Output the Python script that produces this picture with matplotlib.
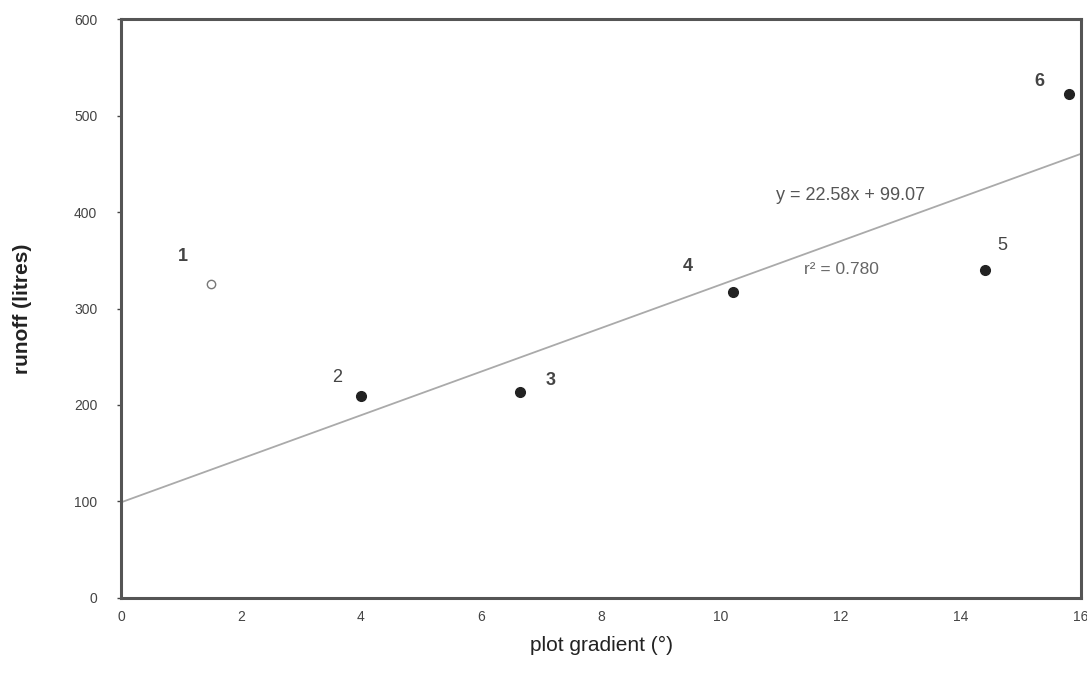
import numpy as np
import matplotlib
matplotlib.use("Agg")
import matplotlib.pyplot as plt

plt.rcParams["font.family"] = ["Liberation Sans", "DejaVu Sans"]

# plot data
plot_ids = ["1", "2", "3", "4", "5", "6"]
gradient = [1.5, 4.0, 6.65, 10.2, 14.4, 15.8]
runoff = [325, 209, 213, 317, 340, 522]
open_marker = [True, False, False, False, False, False]

# label anchor positions (data coords)
label_x = [1.03, 3.6, 7.16, 9.44, 14.68, 15.3]
label_y = [354, 228, 225, 344, 365, 535]
label_bold = [True, False, True, True, False, True]

# regression from the figure
slope = 22.58
intercept = 99.07
r2 = 0.780

xticks = [0, 2, 4, 6, 8, 10, 12, 14, 16]
yticks = [0, 100, 200, 300, 400, 500, 600]

fig = plt.figure(figsize=(10.87, 6.82), dpi=100)
ax = fig.add_axes([0.1113, 0.1232, 0.8832, 0.8489])

spine_col = "#555555"
for s in ax.spines.values():
    s.set_color(spine_col)
    s.set_linewidth(2.2)

# regression line
xl = np.array([0, 16])
ax.plot(xl, slope * xl + intercept, color="#aaaaaa", lw=1.3, zorder=1)

for x, y, hollow in zip(gradient, runoff, open_marker):
    if hollow:
        ax.plot(x, y, "o", ms=6, mfc="white", mec="#777777", mew=1.0, zorder=3)
    else:
        ax.plot(x, y, "o", ms=7, color="#222222", zorder=3)

for lab, lx, ly, b in zip(plot_ids, label_x, label_y, label_bold):
    ax.text(lx, ly, lab, ha="center", va="center", fontsize=13,
            fontweight="bold" if b else "normal", color="#444444")

ax.text(12.16, 417, f"y = {slope:.2f}x + {intercept:.2f}", ha="center", va="center",
        fontsize=13, color="#555555")
ax.text(12.0, 340, f"r² = {r2:.3f}", ha="center", va="center",
        fontsize=12.5, color="#666666")

ax.set_xlim(0, 16)
ax.set_ylim(0, 600)
ax.set_xticks(xticks)
ax.set_yticks(yticks)
ax.tick_params(axis="both", labelsize=10, colors="#444444", length=3, width=1)
ax.tick_params(axis="x", pad=9, length=0)
ax.tick_params(axis="y", pad=14)

ax.set_xlabel("plot gradient (°)", fontsize=15, color="#222222", labelpad=8)
ax.set_ylabel("runoff (litres)", fontsize=15, fontweight="bold", color="#222222", labelpad=30)

fig.savefig("out.png", dpi=100)
